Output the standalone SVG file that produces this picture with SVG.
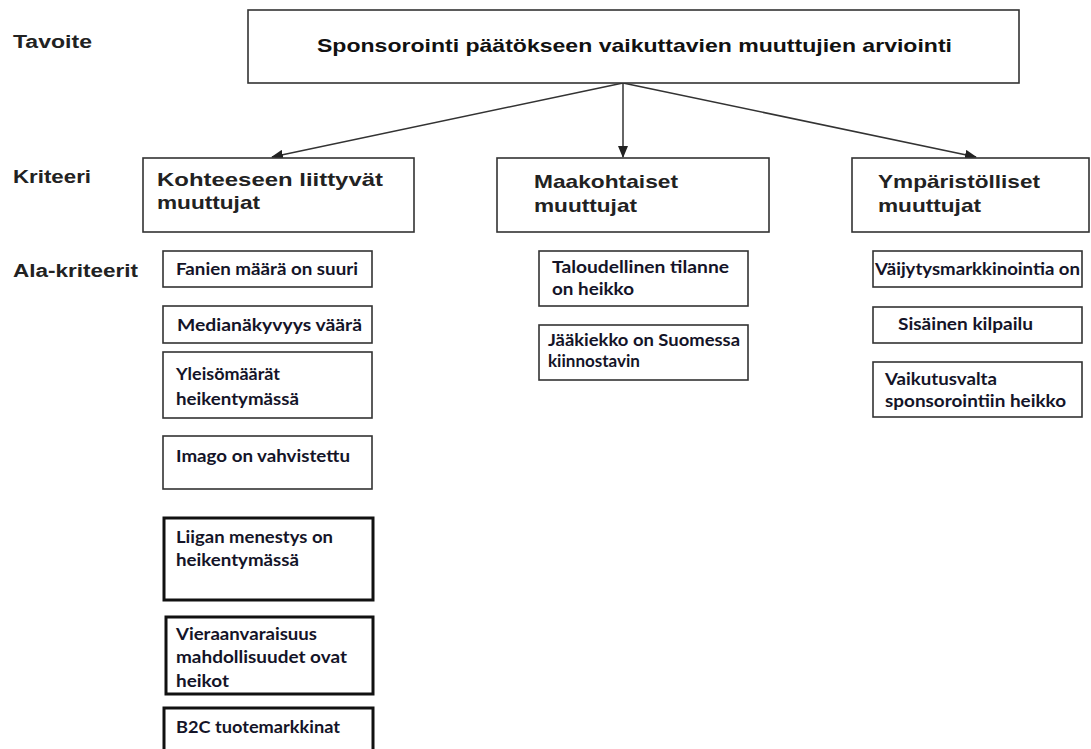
<svg xmlns="http://www.w3.org/2000/svg" width="1091" height="749" viewBox="0 0 1091 749">
<style>
.box{fill:#fff;stroke:#333;stroke-width:1.6}
.thick{fill:#fff;stroke:#111;stroke-width:3}
.lbl{font-family:"Liberation Sans",Arial,sans-serif;font-weight:bold;font-size:18px;fill:#222}
.title{font-family:"Liberation Sans",Arial,sans-serif;font-weight:bold;font-size:19px;fill:#111}
.crit{font-family:"Liberation Sans",Arial,sans-serif;font-weight:bold;font-size:19px;fill:#222}
.sub{font-family:Lato,"Open Sans",sans-serif;font-weight:bold;font-size:17px;fill:#141428}
.conn{stroke:#333;stroke-width:1.5;fill:none}
</style>
<defs>
<marker id="ah" markerWidth="12" markerHeight="10" refX="11" refY="5" orient="auto" markerUnits="userSpaceOnUse">
<path d="M0,0 L12,5 L0,10 Z" fill="#222"/>
</marker>
</defs>
<rect width="1091" height="749" fill="#fff"/>
<g id="levels">
<text class="lbl" x="13" y="48" textLength="79" lengthAdjust="spacingAndGlyphs">Tavoite</text>
<text class="lbl" x="13" y="183" textLength="78" lengthAdjust="spacingAndGlyphs">Kriteeri</text>
<text class="lbl" x="13" y="277" textLength="125" lengthAdjust="spacingAndGlyphs">Ala-kriteerit</text>
</g>
<g id="connectors">
<line class="conn" x1="623" y1="83" x2="272" y2="157" marker-end="url(#ah)"/>
<line class="conn" x1="623" y1="83" x2="623" y2="157" marker-end="url(#ah)"/>
<line class="conn" x1="623" y1="83" x2="976" y2="157" marker-end="url(#ah)"/>
</g>
<g id="goal">
<rect class="box" x="248" y="10" width="771" height="73"/>
<text class="title" x="317" y="52" textLength="635" lengthAdjust="spacingAndGlyphs">Sponsorointi päätökseen vaikuttavien muuttujien arviointi</text>
</g>
<g id="crit-kohde">
<rect class="box" x="143" y="158" width="271" height="74"/>
<text class="crit" x="157" y="186" textLength="226" lengthAdjust="spacingAndGlyphs">Kohteeseen liittyvät</text>
<text class="crit" x="157" y="209" textLength="103" lengthAdjust="spacingAndGlyphs">muuttujat</text>
</g>
<g id="crit-maa">
<rect class="box" x="497" y="158" width="272" height="74"/>
<text class="crit" x="534" y="188" textLength="144" lengthAdjust="spacingAndGlyphs">Maakohtaiset</text>
<text class="crit" x="534" y="212" textLength="103" lengthAdjust="spacingAndGlyphs">muuttujat</text>
</g>
<g id="crit-ymp">
<rect class="box" x="852" y="158" width="237" height="74"/>
<text class="crit" x="878" y="188" textLength="162" lengthAdjust="spacingAndGlyphs">Ympäristölliset</text>
<text class="crit" x="878" y="212" textLength="103" lengthAdjust="spacingAndGlyphs">muuttujat</text>
</g>
<g id="sub-fanien">
<rect class="box" x="163" y="251" width="209" height="36"/>
<text class="sub" x="176" y="275" textLength="182" lengthAdjust="spacingAndGlyphs">Fanien määrä on suuri</text>
</g>
<g id="sub-media">
<rect class="box" x="163" y="306" width="209" height="37"/>
<text class="sub" x="177" y="331" textLength="185" lengthAdjust="spacingAndGlyphs">Medianäkyvyys väärä</text>
</g>
<g id="sub-yleiso">
<rect class="box" x="163" y="352" width="209" height="66"/>
<text class="sub" x="176" y="380" textLength="104" lengthAdjust="spacingAndGlyphs">Yleisömäärät</text>
<text class="sub" x="176" y="405" textLength="123" lengthAdjust="spacingAndGlyphs">heikentymässä</text>
</g>
<g id="sub-imago">
<rect class="box" x="163" y="436" width="209" height="53"/>
<text class="sub" x="176" y="462" textLength="174" lengthAdjust="spacingAndGlyphs">Imago on vahvistettu</text>
</g>
<g id="sub-liiga">
<rect class="thick" x="164" y="518" width="209" height="82"/>
<text class="sub" x="176" y="543" textLength="157" lengthAdjust="spacingAndGlyphs">Liigan menestys on</text>
<text class="sub" x="176" y="566" textLength="123" lengthAdjust="spacingAndGlyphs">heikentymässä</text>
</g>
<g id="sub-vieras">
<rect class="thick" x="166" y="617" width="207" height="77"/>
<text class="sub" x="176" y="640" textLength="141" lengthAdjust="spacingAndGlyphs">Vieraanvaraisuus</text>
<text class="sub" x="176" y="663" textLength="171" lengthAdjust="spacingAndGlyphs">mahdollisuudet ovat</text>
<text class="sub" x="176" y="687" textLength="53" lengthAdjust="spacingAndGlyphs">heikot</text>
</g>
<g id="sub-b2c">
<rect class="thick" x="164" y="708" width="209" height="50"/>
<text class="sub" x="176" y="733" textLength="164" lengthAdjust="spacingAndGlyphs">B2C tuotemarkkinat</text>
</g>
<g id="sub-talous">
<rect class="box" x="539" y="251" width="209" height="55"/>
<text class="sub" x="552" y="273" textLength="177" lengthAdjust="spacingAndGlyphs">Taloudellinen tilanne</text>
<text class="sub" x="552" y="295" textLength="82" lengthAdjust="spacingAndGlyphs">on heikko</text>
</g>
<g id="sub-jaakiekko">
<rect class="box" x="539" y="325" width="209" height="55"/>
<text class="sub" x="548" y="346" textLength="192" lengthAdjust="spacingAndGlyphs">Jääkiekko on Suomessa</text>
<text class="sub" x="548" y="367" textLength="92" lengthAdjust="spacingAndGlyphs">kiinnostavin</text>
</g>
<g id="sub-vaijytys">
<rect class="box" x="873" y="251" width="209" height="36"/>
<text class="sub" x="875" y="275" textLength="205" lengthAdjust="spacingAndGlyphs">Väijytysmarkkinointia on</text>
</g>
<g id="sub-sisainen">
<rect class="box" x="873" y="307" width="209" height="36"/>
<text class="sub" x="898" y="330" textLength="135" lengthAdjust="spacingAndGlyphs">Sisäinen kilpailu</text>
</g>
<g id="sub-vaikutus">
<rect class="box" x="873" y="362" width="209" height="55"/>
<text class="sub" x="885" y="385" textLength="112" lengthAdjust="spacingAndGlyphs">Vaikutusvalta</text>
<text class="sub" x="885" y="407" textLength="181" lengthAdjust="spacingAndGlyphs">sponsorointiin heikko</text>
</g>
</svg>
